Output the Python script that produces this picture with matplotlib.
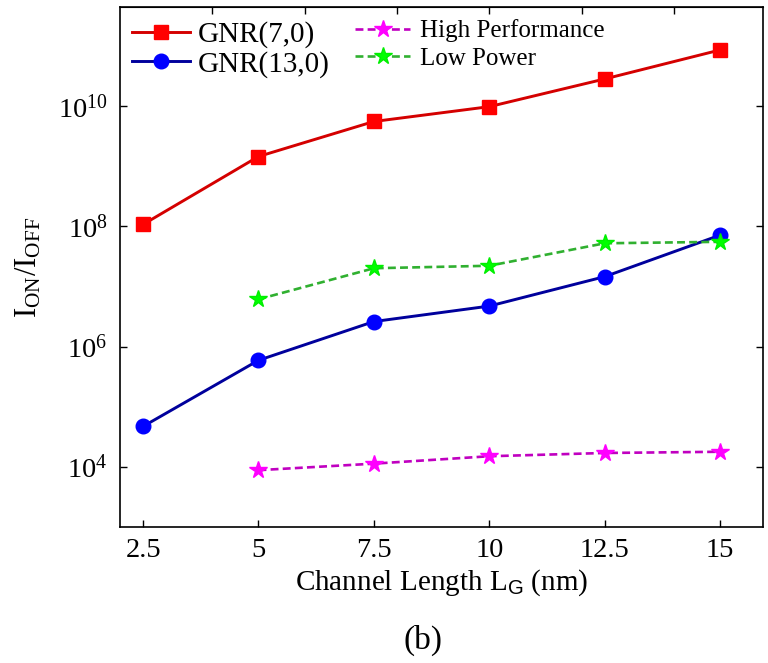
import matplotlib
matplotlib.use('Agg')
import matplotlib.pyplot as plt
from matplotlib.ticker import FixedLocator, NullFormatter

plt.rcParams['font.family'] = 'Liberation Serif'
plt.rcParams['mathtext.fontset'] = 'custom'
plt.rcParams['mathtext.rm'] = 'Liberation Serif'
plt.rcParams['mathtext.it'] = 'Liberation Serif:italic'
plt.rcParams['mathtext.sf'] = 'Liberation Sans'

# channel length (nm)
lg = [2.5, 5, 7.5, 10, 12.5, 15]
lg_itrs = [5, 7.5, 10, 12.5, 15]

# Ion/Ioff ratios
gnr7 = [1.07e8, 1.44e9, 5.5e9, 9.7e9, 2.8e10, 8.5e10]
gnr13 = [4.7e4, 5.9e5, 2.6e6, 4.7e6, 1.45e7, 7.1e7]
high_perf = [8.8e3, 1.13e4, 1.5e4, 1.7e4, 1.78e4]
low_power = [6.1e6, 2.0e7, 2.2e7, 5.2e7, 5.5e7]

xticks = [2.5, 5, 7.5, 10, 12.5, 15]
xtick_labels = ['2.5', '5', '7.5', '10', '12.5', '15']
top_ticks = [4, 6, 8, 10, 12, 14]
yticks = [1e4, 1e6, 1e8, 1e10]
ytick_labels = [r'$\mathregular{10^{4}}$', r'$\mathregular{10^{6}}$',
                r'$\mathregular{10^{8}}$', r'$\mathregular{10^{10}}$']

fig = plt.figure(figsize=(7.68, 6.63), dpi=100)
ax = fig.add_axes([120/768, 1-527/663, 643/768, 520/663])

l1, = ax.plot(lg, gnr7, '-', color='#d40000', lw=2.1, marker='s', ms=10,
              mfc='#ff0000', mec='#ff0000', label='GNR(7,0)')
l2, = ax.plot(lg, gnr13, '-', color='#00009c', lw=2.1, marker='o', ms=10.5,
              mfc='#0000ff', mec='#0000ff', label='GNR(13,0)')
l3, = ax.plot(lg_itrs, high_perf, ls=(0, (3, 1.6)), color='#c000c0', lw=1.9,
              marker='*', ms=13, mfc='#ff00ff', mec='#ff00ff', label='High Performance')
l4, = ax.plot(lg_itrs, low_power, ls=(0, (3, 1.6)), color='#30b030', lw=1.9,
              marker='*', ms=13, mfc='#00ff00', mec='#00ee00', label='Low Power')

ax.set_yscale('log')
ax.set_xlim(2.0, 15.93)
ax.set_ylim(1e3, 4.4e11)

ax.set_xticks(xticks)
ax.set_xticklabels(xtick_labels)
ax.yaxis.set_major_locator(FixedLocator(yticks))
ax.set_yticklabels(ytick_labels)
ax.yaxis.set_minor_locator(FixedLocator([]))
ax.yaxis.set_minor_formatter(NullFormatter())
ax.tick_params(axis='both', which='major', direction='in', length=5, width=1,
               labelsize=20.5, top=False, right=True)
ax.tick_params(axis='x', pad=8)
ax.tick_params(axis='y', pad=9)

# top axis carries its own ticks
sec = ax.secondary_xaxis('top')
sec.set_xticks(top_ticks)
sec.tick_params(direction='in', length=5, width=1, labeltop=False)

for sp in ax.spines.values():
    sp.set_linewidth(1.2)

ax.set_xlabel(r'Channel Length $\mathregular{L}_{\mathsf{G}}$ (nm)', fontsize=21, labelpad=3)
ax.set_ylabel(r'$\mathregular{I_{ON}/I_{OFF}}$', fontsize=22, labelpad=10)

leg1 = ax.legend(handles=[l1, l2], loc='upper left', bbox_to_anchor=(0.0187, 0.972),
                 fontsize=21, frameon=False, handlelength=2.0, handletextpad=0.25,
                 labelspacing=0.08, borderpad=0, borderaxespad=0)
ax.add_artist(leg1)
ax.legend(handles=[l3, l4], loc='upper left', bbox_to_anchor=(0.3655, 0.976),
          fontsize=18, frameon=False, handlelength=2.2, handletextpad=0.4,
          labelspacing=0.2, borderpad=0, borderaxespad=0)

fig.text(0.551, 1 - 640/663, '(b)', fontsize=24, ha='center', va='center')

fig.savefig('out.png', dpi=100)
